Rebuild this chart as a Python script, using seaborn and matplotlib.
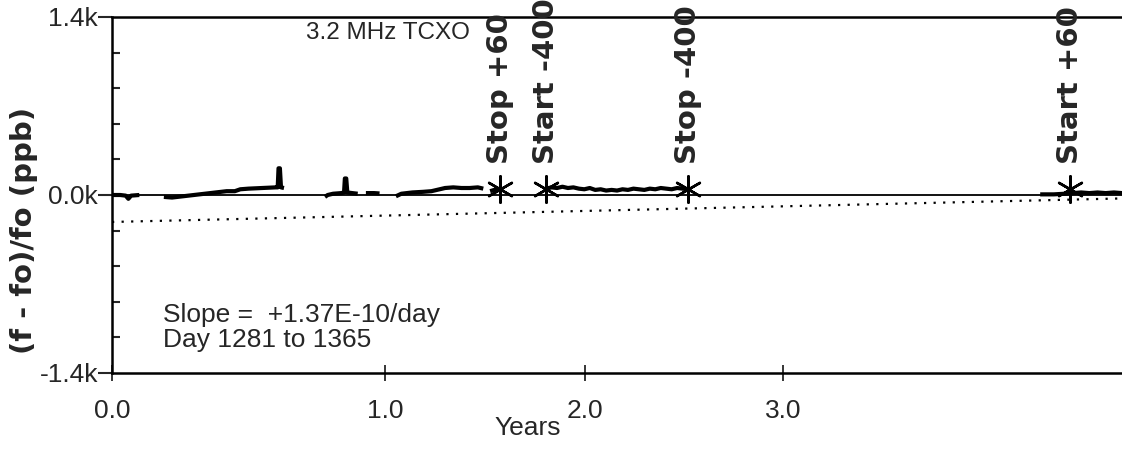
import matplotlib
matplotlib.use("Agg")
import matplotlib.pyplot as plt
from matplotlib import font_manager
import seaborn as sns
import pandas as pd

# ---------------- data ----------------
seg0_x = [0.00, 0.03, 0.05, 0.06, 0.07, 0.10]
seg0_y = [0, 0, -5, -30, -5, 0]
seg1_x = [0.19, 0.22, 0.26, 0.30, 0.34, 0.38, 0.42, 0.45, 0.47, 0.50, 0.55, 0.60, 0.607, 0.610, 0.615, 0.619, 0.63]
seg1_y = [-15, -20, -10, 0, 10, 20, 30, 30, 45, 50, 55, 60, 60, 210, 210, 60, 55]
seg2_x = [0.78, 0.79, 0.81, 0.84, 0.850, 0.853, 0.858, 0.862, 0.88, 0.90]
seg2_y = [-15, 0, 10, 15, 20, 130, 130, 20, 15, 10]
seg3_x = [0.93, 0.96, 0.98]
seg3_y = [15, 15, 12]
seg4_x = [1.04, 1.06, 1.10, 1.14, 1.17, 1.20, 1.22, 1.25, 1.28, 1.31, 1.34, 1.36]
seg4_y = [-10, 10, 20, 25, 30, 45, 55, 60, 55, 55, 60, 50]
seg5_x = [1.385, 1.40, 1.42]
seg5_y = [30, 40, 45]
seg6_x = [1.59, 1.61, 1.63, 1.65, 1.67, 1.69, 1.71, 1.73, 1.75, 1.77, 1.79, 1.81, 1.83, 1.85,
          1.87, 1.89, 1.91, 1.93, 1.95, 1.97, 1.99, 2.01, 2.03, 2.05, 2.07, 2.09, 2.11]
seg6_y = [50, 60, 55, 65, 55, 60, 50, 45, 55, 40, 45, 35, 40, 35,
          45, 40, 50, 45, 40, 50, 45, 55, 50, 45, 55, 50, 45]
seg7_x = [3.40, 3.45, 3.49, 3.52, 3.55, 3.58, 3.61, 3.64, 3.67, 3.70]
seg7_y = [5, 5, 10, 15, 20, 15, 20, 15, 20, 15]

event_x = [1.42, 1.59, 2.11, 3.51]
event_y = [50, 50, 50, 50]
event_labels = ["Stop +60", "Start -400", "Stop -400", "Start +60"]

fit_x = [0.0, 3.70]
fit_y = [-212, -27]

xtick_pos = [0.0, 1.0, 1.733, 2.458]
xtick_labels = ["0.0", "1.0", "2.0", "3.0"]
ytick_major = [-1400, 0, 1400]
ytick_labels = ["-1.4k", "0.0k", "1.4k"]
ytick_minor = [-1120, -840, -560, -280, 280, 560, 840, 1120]

title_text = "3.2 MHz TCXO"
note_line1 = "Slope =  +1.37E-10/day"
note_line2 = "Day 1281 to 1365"
xlabel = "Years"
ylabel = "(f - fo)/fo (ppb)"

# --------------- build frame ---------------
segs = [(seg0_x, seg0_y), (seg1_x, seg1_y), (seg2_x, seg2_y), (seg3_x, seg3_y),
        (seg4_x, seg4_y), (seg5_x, seg5_y), (seg6_x, seg6_y), (seg7_x, seg7_y)]
rows = []
for i, (xs, ys) in enumerate(segs):
    for x, y in zip(xs, ys):
        rows.append({"years": x, "ppb": y, "seg": i})
trace = pd.DataFrame(rows)
events = pd.DataFrame({"years": event_x, "ppb": event_y, "label": event_labels})
fit = pd.DataFrame({"years": fit_x, "ppb": fit_y})

# --------------- fonts ---------------
sns.set_style("ticks")
names = {f.name for f in font_manager.fontManager.ttflist}
if "Liberation Sans Narrow" in names:
    narrow = ["Liberation Sans Narrow", "DejaVu Sans"]
    nsize = 21
    tsize = 21
else:
    narrow = ["Liberation Sans", "DejaVu Sans"]
    nsize = 19
    tsize = 17.5
plt.rcParams["font.family"] = narrow
bold_family = ["DejaVu Sans"]

# --------------- figure ---------------
fig = plt.figure(figsize=(11.22, 4.53), dpi=100)
W, H = 1122, 453
left_px, right_px, top_px, bot_px = 112, 1122, 17, 373
ax = fig.add_axes([left_px / W, 1 - bot_px / H, (right_px - left_px) / W, (bot_px - top_px) / H])

ax.axhline(0, color="black", lw=1.3, zorder=1)

sns.lineplot(data=fit, x="years", y="ppb", ax=ax, color="black", lw=1.6,
             linestyle=(0, (1, 3.3)), zorder=2)
sns.lineplot(data=trace, x="years", y="ppb", units="seg", estimator=None, ax=ax,
             color="black", lw=3.0, zorder=3, solid_capstyle="butt")
sns.scatterplot(data=events, x="years", y="ppb", ax=ax, marker=(6, 2, 0), s=360,
                color="black", linewidth=1.8, edgecolor="black", zorder=4)

for _, r in events.iterrows():
    ax.text(r["years"], 240, r["label"], rotation=90, ha="center", va="bottom",
            fontsize=21, fontweight="bold", family=bold_family, clip_on=False)

ax.set_xlim(0, (right_px - left_px) / 273.0)
ax.set_ylim(-1400, 1400)

ax.set_xticks(xtick_pos)
ax.set_xticklabels(xtick_labels)
ax.set_yticks(ytick_major)
ax.set_yticklabels(ytick_labels)
ax.set_yticks(ytick_minor, minor=True)

ax.tick_params(axis="y", which="major", direction="out", length=10, width=1.5,
               pad=0, labelsize=nsize)
ax.tick_params(axis="y", which="minor", direction="in", length=6, width=1.5)
ax.tick_params(axis="x", which="major", direction="inout", length=12, width=1.3,
               pad=13, labelsize=nsize)

for side in ["left", "bottom", "top"]:
    ax.spines[side].set_linewidth(1.8)
    ax.spines[side].set_color("black")
ax.spines["right"].set_visible(False)

ax.set_xlabel(xlabel, fontsize=nsize)
ax.xaxis.set_label_coords((528 - left_px) / (right_px - left_px), -(416 - bot_px) / (bot_px - top_px))
ax.set_ylabel(ylabel, fontsize=21, fontweight="bold", family=bold_family)
ax.yaxis.set_label_coords((38 - left_px) / (right_px - left_px), (bot_px - 230) / (bot_px - top_px))

ax.text((306 - left_px) / (right_px - left_px), (bot_px - 22) / (bot_px - top_px), title_text,
        transform=ax.transAxes, ha="left", va="top", fontsize=tsize)
ax.text((163 - left_px) / (right_px - left_px), (bot_px - 322) / (bot_px - top_px), note_line1,
        transform=ax.transAxes, ha="left", va="baseline", fontsize=nsize)
ax.text((163 - left_px) / (right_px - left_px), (bot_px - 347) / (bot_px - top_px), note_line2,
        transform=ax.transAxes, ha="left", va="baseline", fontsize=nsize)

fig.savefig("out.png", dpi=100)
